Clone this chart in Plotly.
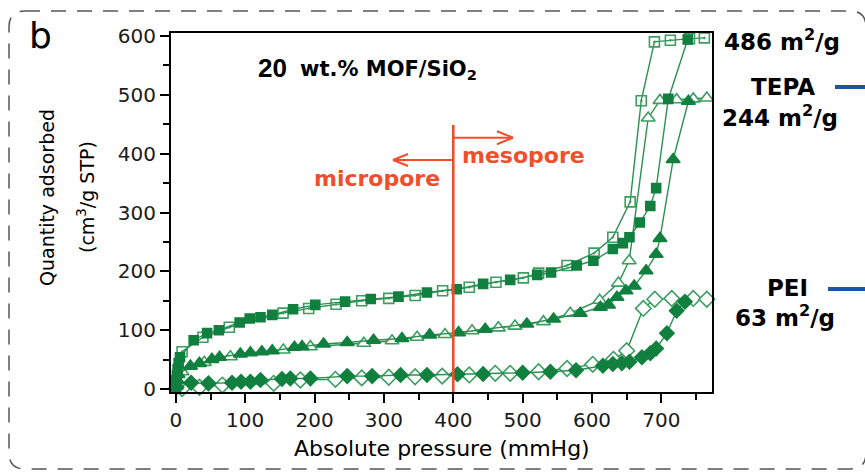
import plotly.graph_objects as go

# ---------------- data ----------------
# 20 wt.% MOF/SiO2 (486 m2/g) - squares
sq_fill_x = [0.5, 1, 1.5, 2.5, 4, 6, 25.7, 45, 62, 92, 106.5, 122, 139, 169, 201, 244, 281, 321, 362,
             405, 443, 482, 521, 541, 578, 602, 630, 644.5, 654, 669, 684, 692.5, 710, 738]
sq_fill_y = [4, 14, 24, 34, 44, 54, 83, 95, 100, 113, 120, 122, 126, 135.6, 143, 148.5, 153, 157, 164,
             169.6, 178.7, 185.5, 194, 198, 210, 218, 238, 248, 258, 283, 311, 341.5, 493, 594]
sq_open_x = [9, 39, 77, 154.6, 191.5, 231, 268, 307, 345, 384.6, 423, 461.5, 501, 523, 564, 603, 630,
             655, 671, 690, 713, 740.5, 762]
sq_open_y = [63.5, 88, 105, 129, 137, 144, 150, 154, 159, 167, 173, 181.6, 189, 197, 210, 231, 258,
             318, 490, 590, 592.6, 595.5, 596.7]

# TEPA (244 m2/g) - triangles
tri_fill_x = [0.5, 1.5, 3, 21, 34, 52, 63, 93, 107.5, 124, 139, 171, 182, 213, 247, 285, 326, 366,
              407.6, 446, 506, 544.6, 583, 612, 623.8, 636, 649, 660.8, 678, 692.5, 698, 717, 739]
tri_fill_y = [5, 15, 25, 39, 43.7, 50.5, 54, 59.5, 61.8, 63.5, 65, 71, 72, 76.6, 79, 83, 86, 92,
              95.8, 101.6, 110.6, 119, 128.8, 139, 143, 156, 167, 175, 201, 229, 256, 390, 489]
tri_open_x = [9, 41, 78.7, 155, 194, 271, 311.7, 347.7, 388, 427, 465, 489, 530, 568.6, 611, 638,
              653.6, 681, 698, 722, 746, 765.5]
tri_open_y = [29.5, 45.4, 55, 66.4, 72, 77.8, 82, 88, 92.8, 99, 104, 107, 114.5, 128.8, 151, 180,
              218, 460.6, 490.5, 491.7, 493, 494.6]

# PEI (63 m2/g) - diamonds
dia_fill_x = [1, 22, 47, 81, 94, 107.5, 122, 153, 165, 194, 247, 283, 324, 362, 406, 443, 500, 540,
              577, 615.7, 630, 643, 654, 672, 684, 692.5, 708, 722, 734]
dia_fill_y = [3, 10.7, 9.7, 10.7, 12.4, 12.4, 15.3, 17, 18, 18, 22, 22, 24, 24, 25, 25.5, 27.7, 29.5,
              32, 39.6, 42.5, 43.7, 46.4, 54, 60.7, 69, 94.8, 133, 148.5]
dia_open_x = [9, 34, 67, 141, 179.5, 230, 268, 307, 345, 384, 423, 460.5, 482, 523, 564, 601, 631,
              650, 674, 690.5, 715, 746, 765.5]
dia_open_y = [1, 3, 6.8, 9.7, 15.3, 16.5, 19, 20, 21, 22, 24, 26.7, 26.7, 29.5, 35, 42, 50.5,
              65, 137, 152.6, 154, 154, 152.6]

boundary_pressure = 400
x_ticks = [0, 100, 200, 300, 400, 500, 600, 700]
y_ticks = [0, 100, 200, 300, 400, 500, 600]

# ---------------- geometry / style ----------------
W, H = 865, 472
L, R, T, B = 171, 712, 33, 392
XR = [-7, 773]
YR = [-5, 605]

FILL = "#11803f"
OPEN = "#3b9e60"
LINE = "#2a9150"
RED = "#f04e2c"
BLUE = "#1c55a0"
ARIAL = "DejaVu Sans"


def px(x):
    return (x - L) / (R - L)


def py(y):
    return (B - y) / (B - T)


def xd(x):
    return XR[0] + (x - L) / (R - L) * (XR[1] - XR[0])


fig = go.Figure()


def add(x, y, symbol, size, color, fill, lw=1.6):
    fig.add_trace(go.Scatter(
        x=x, y=y, mode="lines+markers",
        line=dict(color=LINE, width=1.4),
        marker=dict(symbol=symbol, size=size, color=fill,
                    line=dict(color=color, width=lw)),
        showlegend=False, cliponaxis=False))


add(dia_open_x, dia_open_y, "diamond", 12, OPEN, "white")
add(dia_fill_x, dia_fill_y, "diamond", 11, FILL, FILL)
add(tri_open_x, tri_open_y, "triangle-up", 12, OPEN, "white")
add(tri_fill_x, tri_fill_y, "triangle-up", 12, FILL, FILL)
add(sq_open_x, sq_open_y, "square-open-dot", 10, OPEN, OPEN)
add(sq_fill_x, sq_fill_y, "square", 9, FILL, FILL)

axis_common = dict(showline=True, linewidth=2, linecolor="black", mirror=True,
                   showgrid=False, zeroline=False, ticks="outside", ticklen=9,
                   tickwidth=1.8, tickcolor="black",
                   tickfont=dict(family=ARIAL, size=20, color="#1a1a1a"),
                   minor=dict(ticks="outside", ticklen=6, tickwidth=1.5, tickcolor="black", dtick=50,
                              showgrid=False))

fig.update_xaxes(range=XR, tickvals=x_ticks, **axis_common)
fig.update_yaxes(range=YR, tickvals=y_ticks, **axis_common)

shapes = []
# dashed rounded border
x0, y0, x1, y1, r = 9, 11, 866, 469, 16
path = (f"M {px(x0 + r)},{py(y0)} L {px(x1 - r)},{py(y0)} Q {px(x1)},{py(y0)} {px(x1)},{py(y0 + r)} "
        f"L {px(x1)},{py(y1 - r)} Q {px(x1)},{py(y1)} {px(x1 - r)},{py(y1)} "
        f"L {px(x0 + r)},{py(y1)} Q {px(x0)},{py(y1)} {px(x0)},{py(y1 - r)} "
        f"L {px(x0)},{py(y0 + r)} Q {px(x0)},{py(y0)} {px(x0 + r)},{py(y0)} Z")
shapes.append(dict(type="path", xref="paper", yref="paper", path=path,
                   line=dict(color="#555555", width=1.5, dash="15px,11px"), layer="below"))

# micro/meso boundary
shapes.append(dict(type="line", xref="x", yref="paper", x0=boundary_pressure, x1=boundary_pressure,
                   y0=0, y1=py(125), line=dict(color=RED, width=2.6)))
# mesopore arrow
shapes.append(dict(type="line", xref="x", yref="paper", x0=boundary_pressure, x1=xd(513),
                   y0=py(137.7), y1=py(137.7), line=dict(color=RED, width=2)))
for dy in (-6.5, 6.5):
    shapes.append(dict(type="line", xref="paper", yref="paper", x0=px(513), x1=px(497),
                       y0=py(137.7), y1=py(137.7 + dy), line=dict(color=RED, width=2)))
# micropore arrow
shapes.append(dict(type="line", xref="x", yref="paper", x0=boundary_pressure, x1=xd(393),
                   y0=py(160), y1=py(160), line=dict(color=RED, width=2)))
for dy in (-6, 6):
    shapes.append(dict(type="line", xref="paper", yref="paper", x0=px(393), x1=px(408),
                       y0=py(160), y1=py(160 + dy), line=dict(color=RED, width=2)))
# blue leader lines
shapes.append(dict(type="line", xref="paper", yref="paper", x0=px(835), x1=px(866),
                   y0=py(87), y1=py(87), line=dict(color=BLUE, width=4)))
shapes.append(dict(type="line", xref="paper", yref="paper", x0=px(828), x1=px(866),
                   y0=py(289), y1=py(289), line=dict(color=BLUE, width=4)))

ann = []


def text(t, x, y, size, family=ARIAL, color="black", xanchor="center", yanchor="middle", angle=0):
    ann.append(dict(text=t, x=px(x), y=py(y), xref="paper", yref="paper", showarrow=False,
                    xanchor=xanchor, yanchor=yanchor, textangle=angle,
                    font=dict(family=family, size=size, color=color)))


BOLD = "DejaVu Sans"
text("b", 27, 35, 36, xanchor="left")
text("<b>20</b>", 289, 68, 26, family="Liberation Sans", xanchor="right")
text("<b>wt.% MOF/SiO<sub>2</sub></b>", 298, 70, 21, family=BOLD, xanchor="left")
text("<b>mesopore</b>", 460, 155, 22, family=BOLD, color=RED, xanchor="left")
text("<b>micropore</b>", 442, 178, 22, family=BOLD, color=RED, xanchor="right")
text("<b>486 m<sup>2</sup>/g</b>", 722, 40, 23, family=BOLD, xanchor="left")
text("<b>TEPA</b>", 783, 87, 23, family=BOLD)
text("<b>244 m<sup>2</sup>/g</b>", 720, 116, 23, family=BOLD, xanchor="left")
text("<b>PEI</b>", 787, 288, 23, family=BOLD)
text("<b>63 m<sup>2</sup>/g</b>", 733, 316, 23, family=BOLD, xanchor="left")
text("Quantity adsorbed", 47, 198, 19, angle=-90)
text("(cm<sup>3</sup>/g STP)", 86, 197, 19, angle=-90)
text("Absolute pressure (mmHg)", 442, 448, 22)

fig.update_layout(width=W, height=H, autosize=False,
                  margin=dict(l=L, r=W - R, t=T, b=H - B, pad=0),
                  paper_bgcolor="white", plot_bgcolor="white",
                  shapes=shapes, annotations=ann, showlegend=False)

fig.write_html("out.html")
